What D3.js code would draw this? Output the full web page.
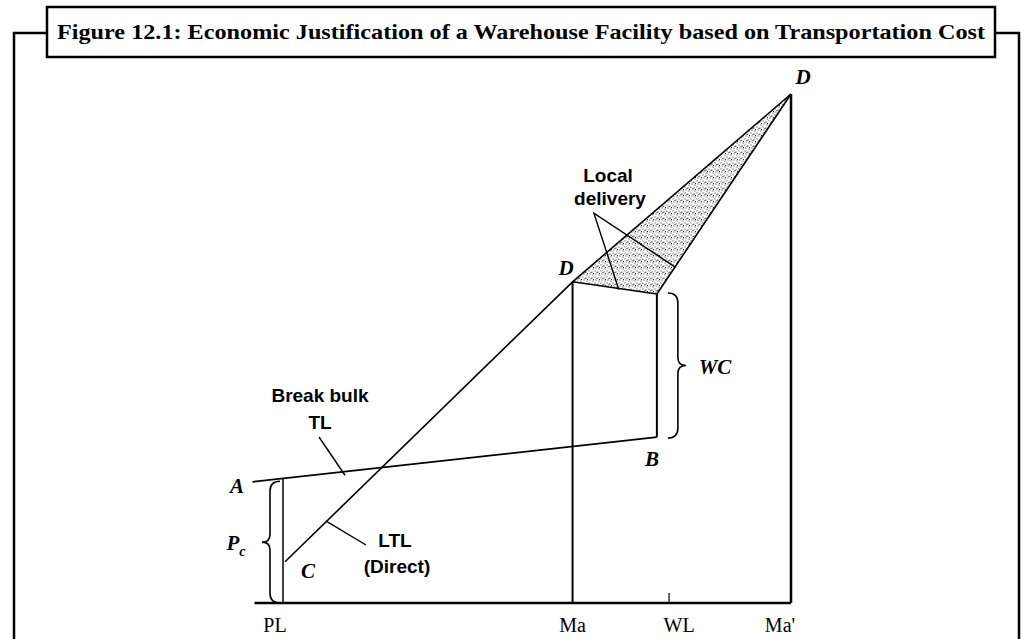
<!DOCTYPE html>
<html>
<head>
<meta charset="utf-8">
<script src="https://cdn.jsdelivr.net/npm/d3@7"></script>
<style>
  html, body { margin: 0; padding: 0; background: #fff; }
  svg { display: block; }
</style>
</head>
<body>
<svg id="fig" width="1031" height="639"></svg>
<script>
// ---- Diagram values (distance units along x, cost units along y) ----
const xTickLabels = ["PL", "Ma", "WL", "Ma'"];
const xTickValues = [0, 57, 76, 100];

// Break bulk truckload line, from A (before the plant) to B (warehouse)
const breakBulkTL = [[-6, 23.8], [73.6, 32.6]];
// Direct LTL line, from C at the plant through D at Ma up to D at Ma'
const directLTL = [[0.4, 8.1], [57, 63.1], [100, 100]];
// Warehouse cost riser at the warehouse and the local delivery edge back to D
const warehouseX = 73.6;
const warehouseTop = 60.7;
const localDeliveryEdge = [[57, 63.1], [warehouseX, warehouseTop]];
// Shaded saving region D(Ma) - D(Ma') - warehouse top
const shadedRegion = [[57, 63.1], [100, 100], [warehouseX, warehouseTop]];
// Local delivery pointer: label point and two targets
const localPointer = [[61.2, 76.6], [66.1, 61.6], [77.2, 66.0]];
// Plant cost bracket range
const plantCost = [0, 24.5];
const warehouseCost = [32.6, warehouseTop];

const title = "Figure 12.1: Economic Justification of a Warehouse Facility based on Transportation Cost";

const svg = d3.select("#fig");
const x = d3.scaleLinear().domain([0, 100]).range([283, 791]);
const y = d3.scaleLinear().domain([0, 100]).range([603, 94]);
const line = d3.line().x(d => x(d[0])).y(d => y(d[1]));

// ---- frame and title box ----
svg.append("path")
  .attr("d", "M14,639 L14,33 L47,33 M995,33 L1019,33 L1019,639")
  .attr("fill", "none").attr("stroke", "#000").attr("stroke-width", 2.5);
svg.append("rect")
  .attr("x", 47).attr("y", 7).attr("width", 948).attr("height", 50)
  .attr("fill", "#fff").attr("stroke", "#000").attr("stroke-width", 2.5);
svg.append("text")
  .attr("x", 57).attr("y", 38.5)
  .attr("textLength", 928).attr("lengthAdjust", "spacingAndGlyphs")
  .style("font-family", "'Liberation Serif', 'DejaVu Serif', serif")
  .style("font-weight", "bold").style("font-size", "21px")
  .text(title);

// ---- stipple pattern for the shaded region ----
const defs = svg.append("defs");
const pat = defs.append("pattern").attr("id", "stipple")
  .attr("patternUnits", "userSpaceOnUse").attr("width", 6).attr("height", 6);
[[0.5, 0.5], [3.5, 1.5], [1.5, 3.5], [4.5, 4.5], [2.5, 2], [5, 3]].forEach(p => {
  pat.append("rect").attr("x", p[0]).attr("y", p[1]).attr("width", 1).attr("height", 1)
    .attr("fill", "#222");
});

const g = svg.append("g");

g.append("path").datum(shadedRegion)
  .attr("d", d => line(d) + "Z")
  .attr("fill", "url(#stipple)").attr("stroke", "none");

// ---- baseline and verticals ----
g.append("line")
  .attr("x1", x(-5.6)).attr("x2", x(100)).attr("y1", y(0)).attr("y2", y(0))
  .attr("stroke", "#000").attr("stroke-width", 2.5);

// plant vertical (PL)
g.append("line")
  .attr("x1", x(0)).attr("x2", x(0)).attr("y1", y(0)).attr("y2", y(plantCost[1]))
  .attr("stroke", "#000").attr("stroke-width", 1.5);
// market vertical (Ma)
g.append("line")
  .attr("x1", x(57)).attr("x2", x(57)).attr("y1", y(0)).attr("y2", y(63.1))
  .attr("stroke", "#000").attr("stroke-width", 2);
// far market vertical (Ma')
g.append("line")
  .attr("x1", x(100)).attr("x2", x(100)).attr("y1", y(0)).attr("y2", y(100))
  .attr("stroke", "#000").attr("stroke-width", 2.5);
// warehouse location tick (WL)
g.append("line")
  .attr("x1", x(76)).attr("x2", x(76)).attr("y1", y(0)).attr("y2", y(0) - 10)
  .attr("stroke", "#000").attr("stroke-width", 1.2);
// warehouse cost riser
g.append("line")
  .attr("x1", x(warehouseX)).attr("x2", x(warehouseX))
  .attr("y1", y(warehouseCost[0])).attr("y2", y(warehouseCost[1]))
  .attr("stroke", "#000").attr("stroke-width", 2);

// ---- cost lines ----
g.append("path").datum(breakBulkTL).attr("d", line)
  .attr("fill", "none").attr("stroke", "#000").attr("stroke-width", 1.8);
g.append("path").datum(directLTL).attr("d", line)
  .attr("fill", "none").attr("stroke", "#000").attr("stroke-width", 1.6);
g.append("path").datum(shadedRegion.slice(1)).attr("d", line)
  .attr("fill", "none").attr("stroke", "#000").attr("stroke-width", 1.6);
g.append("path").datum(localDeliveryEdge).attr("d", line)
  .attr("fill", "none").attr("stroke", "#000").attr("stroke-width", 1.6);

// local delivery pointers
g.append("path")
  .attr("d", line([localPointer[1], localPointer[0], localPointer[2]]))
  .attr("fill", "none").attr("stroke", "#000").attr("stroke-width", 1.4);

// ---- braces ----
function brace(xs, y1, y2, dir) {
  // dir = -1 points left, +1 points right
  const ym = (y1 + y2) / 2;
  const c = xs - dir * 10;
  const tip = xs + dir * 8;
  return `M${c},${y1} Q${xs},${y1} ${xs},${y1 + 10} L${xs},${ym - 8} Q${xs},${ym} ${tip},${ym}` +
         ` Q${xs},${ym} ${xs},${ym + 8} L${xs},${y2 - 10} Q${xs},${y2} ${c},${y2}`;
}
g.append("path").attr("d", brace(x(0) - 13, y(plantCost[1]) + 3, y(plantCost[0]), -1))
  .attr("fill", "none").attr("stroke", "#000").attr("stroke-width", 1.6);
g.append("path").attr("d", brace(x(warehouseX) + 21, y(warehouseCost[1]) - 1, y(warehouseCost[0]) + 1, 1))
  .attr("fill", "none").attr("stroke", "#000").attr("stroke-width", 1.6);

// ---- annotation pointers ----
g.append("line").attr("x1", 319).attr("y1", 437)
  .attr("x2", x(12.2)).attr("y2", y(25.1))
  .attr("stroke", "#000").attr("stroke-width", 1.4);
g.append("line").attr("x1", x(8.5)).attr("y1", y(16.1))
  .attr("x2", 366).attr("y2", 545)
  .attr("stroke", "#000").attr("stroke-width", 1.4);

// ---- text ----
const sans = "'Liberation Sans', Arial, sans-serif";
const serif = "'Liberation Serif', 'DejaVu Serif', serif";

function label(t, px, py, opts = {}) {
  return svg.append("text").attr("x", px).attr("y", py)
    .attr("text-anchor", opts.anchor || "middle")
    .style("font-family", opts.family || sans)
    .style("font-weight", opts.weight || "bold")
    .style("font-style", opts.italic ? "italic" : "normal")
    .style("font-size", (opts.size || 19) + "px")
    .text(t);
}

label("Break bulk", 320, 402);
label("TL", 320, 429);
label("LTL", 395, 547);
label("(Direct)", 397, 573);
label("Local", 608, 182);
label("delivery", 610, 205);

const it = { family: serif, italic: true, size: 21 };
label("A", 237, 493, it);
label("B", 652, 466, it);
label("C", 308, 578, it);
label("D", 566, 275, it);
label("D", 803, 84, it);
label("WC", 715, 374, it);
const pc = label("P", 236, 550, it);
pc.append("tspan").attr("dy", 6).style("font-size", "14px").text("c");

// axis position labels
xTickLabels.forEach((t, i) => {
  const offs = [-8, 0, 10, -11];
  label(t, x(xTickValues[i]) + offs[i], 632, { family: serif, weight: "normal", size: 20 });
});
</script>
</body>
</html>
